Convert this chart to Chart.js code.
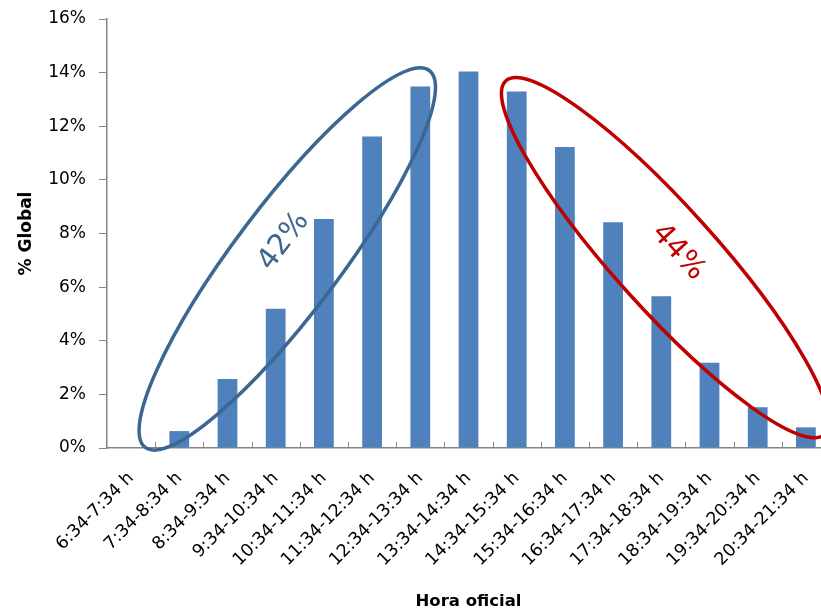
<!DOCTYPE html>
<html>
<head>
<meta charset="utf-8">
<script src="https://cdn.jsdelivr.net/npm/chart.js@4/dist/chart.umd.min.js"></script>
<style>
  html, body { margin: 0; padding: 0; background: #fff; overflow: hidden; }
  canvas { display: block; }
</style>
</head>
<body>
<canvas id="chart" width="834" height="614"></canvas>
<script>
const horas = ['6:34-7:34 h', '7:34-8:34 h', '8:34-9:34 h', '9:34-10:34 h', '10:34-11:34 h',
  '11:34-12:34 h', '12:34-13:34 h', '13:34-14:34 h', '14:34-15:34 h', '15:34-16:34 h',
  '16:34-17:34 h', '17:34-18:34 h', '18:34-19:34 h', '19:34-20:34 h', '20:34-21:34 h'];
const pctGlobal = [0, 0.63, 2.57, 5.19, 8.54, 11.62, 13.48, 14.04, 13.3, 11.23, 8.42, 5.66, 3.18, 1.52, 0.77];
const yTicks = [0, 2, 4, 6, 8, 10, 12, 14, 16];

// callouts: centre given in axis units (category index, %)
const callouts = [
  { text: '42%', color: '#3b6792', cx: 3.24, cy: 7.05, rx: 236, ry: 53, angle: -53,
    tx: 3.17, ty: 7.7, tangle: -53 },
  { text: '44%', color: '#c00000', cx: 11.08, cy: 7.1, rx: 238, ry: 51, angle: 48,
    tx: 11.35, ty: 7.3, tangle: 48 }
];

const font = 'DejaVu Sans';

// small tick marks on the inside of the category axis, plus the ellipses
const extras = {
  id: 'extras',
  afterDatasetsDraw(chart) {
    const { ctx, chartArea, scales } = chart;
    const x = scales.x, y = scales.y;
    ctx.save();
    ctx.strokeStyle = '#868686';
    ctx.lineWidth = 1;
    const step = (chartArea.right - chartArea.left) / horas.length;
    for (let i = 1; i <= horas.length; i++) {
      const px = Math.round(chartArea.left + i * step) + 0.5;
      ctx.beginPath();
      ctx.moveTo(px, chartArea.bottom);
      ctx.lineTo(px, chartArea.bottom - 6);
      ctx.stroke();
    }
    callouts.forEach(c => {
      ctx.strokeStyle = c.color;
      ctx.lineWidth = 3.5;
      ctx.beginPath();
      ctx.ellipse(x.getPixelForValue(c.cx), y.getPixelForValue(c.cy), c.rx, c.ry,
        c.angle * Math.PI / 180, 0, Math.PI * 2);
      ctx.stroke();
      ctx.save();
      ctx.translate(x.getPixelForValue(c.tx), y.getPixelForValue(c.ty));
      ctx.rotate(c.tangle * Math.PI / 180);
      ctx.fillStyle = c.color;
      ctx.font = '29px ' + font;
      ctx.textAlign = 'center';
      ctx.textBaseline = 'middle';
      ctx.fillText(c.text, 0, 0);
      ctx.restore();
    });
    ctx.restore();
  }
};

new Chart(document.getElementById('chart').getContext('2d'), {
  type: 'bar',
  data: {
    labels: horas,
    datasets: [{
      data: pctGlobal,
      backgroundColor: '#4f81bd',
      barPercentage: 0.41,
      categoryPercentage: 1
    }]
  },
  options: {
    responsive: false,
    animation: false,
    layout: { padding: { top: 19, right: 4, left: 12, bottom: 0 } },
    plugins: { legend: { display: false }, tooltip: { enabled: false } },
    scales: {
      x: {
        grid: { display: false },
        border: { color: '#868686', width: 1.5 },
        ticks: {
          color: '#000', font: { family: font, size: 17.5 },
          maxRotation: 45, minRotation: 45, autoSkip: false, padding: 12
        },
        title: {
          display: true, text: 'Hora oficial', color: '#000',
          font: { family: font, size: 16.5, weight: 'bold' },
          padding: { top: 4, bottom: 2 }
        },
        afterFit(scale) { scale.height = 166; }
      },
      y: {
        min: 0, max: 16,
        afterBuildTicks(scale) { scale.ticks = yTicks.map(v => ({ value: v })); },
        grid: { drawOnChartArea: false, drawTicks: true, tickLength: 8, color: '#868686' },
        border: { color: '#868686', width: 1.5 },
        ticks: {
          color: '#000', font: { family: font, size: 17 }, padding: 13,
          callback: v => v + '%'
        },
        title: {
          display: true, text: '% Global', color: '#000',
          font: { family: font, size: 17, weight: 'bold' },
          padding: { top: 4, bottom: 4 }
        },
        afterFit(scale) { scale.width = 95; scale.paddingTop = 0; scale.paddingBottom = 0; }
      }
    }
  },
  plugins: [extras]
});
</script>
</body>
</html>
